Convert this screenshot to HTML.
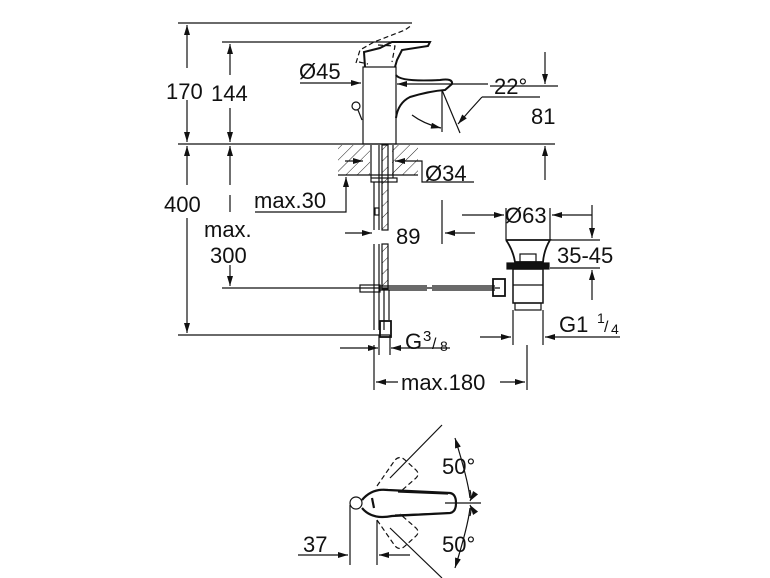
<!DOCTYPE html>
<html><head><meta charset="utf-8"><style>
html,body{margin:0;padding:0;background:#fff}
svg{display:block}
text{font-family:"Liberation Sans",sans-serif;font-size:22px;fill:#111}
</style></head><body>
<svg width="770" height="578" viewBox="0 0 770 578" xmlns="http://www.w3.org/2000/svg">
<defs>
<marker id="a" viewBox="0 0 10 6" refX="10" refY="3" markerWidth="14" markerHeight="6" markerUnits="userSpaceOnUse" orient="auto"><path d="M0,0 L10,3 L0,6 z" fill="#111"/></marker>
<pattern id="h" width="8" height="8" patternUnits="userSpaceOnUse" patternTransform="rotate(45)"><line x1="0" y1="0" x2="0" y2="8" stroke="#222" stroke-width="1"/></pattern>
</defs>
<g stroke="#111" stroke-width="1.2" fill="none">
<line x1="178" y1="23" x2="412" y2="23"/>
<line x1="222" y1="42" x2="430" y2="42"/>
<line x1="178" y1="144" x2="555" y2="144"/>
<line x1="222" y1="288" x2="500" y2="288"/>
<line x1="178" y1="335" x2="390" y2="335"/>
<line x1="187" y1="68" x2="187" y2="25" marker-end="url(#a)"/>
<line x1="187" y1="100" x2="187" y2="142" marker-end="url(#a)"/>
<line x1="187" y1="185" x2="187" y2="146" marker-end="url(#a)"/>
<line x1="187" y1="218" x2="187" y2="333" marker-end="url(#a)"/>
<line x1="230" y1="75" x2="230" y2="44" marker-end="url(#a)"/>
<line x1="230" y1="108" x2="230" y2="142" marker-end="url(#a)"/>
<line x1="230" y1="185" x2="230" y2="146" marker-end="url(#a)"/>
<line x1="230" y1="265" x2="230" y2="286" marker-end="url(#a)"/>
<line x1="230" y1="195" x2="230" y2="212"/>
<rect x="363" y="67" width="33" height="77"/>
<path d="M365,67 L364,52 L380,48 L392,42 L430,42 L428,46 L402,50 L397,60 L395,67" stroke-width="2"/>
<path d="M396,75 Q400,82 440,80 Q453,78 452,84 L445,90 Q430,91 410,97 Q398,103 396,118" stroke-width="2"/>
<path d="M356,63 L360,50 L374,42 L405,30 L412,25 M359,62 L368,64 M378,45 L395,46 L392,62" stroke-dasharray="5,3"/>
<circle cx="356" cy="106" r="4"/><line x1="358" y1="110" x2="362" y2="120"/>
<line x1="300" y1="83" x2="361" y2="83" marker-end="url(#a)"/>
<line x1="430" y1="84" x2="397" y2="84" marker-end="url(#a)"/>
<line x1="430" y1="84" x2="488" y2="84"/>
<line x1="442" y1="90" x2="442" y2="132"/>
<line x1="442" y1="90" x2="460" y2="133"/>
<path d="M412,115 Q424,124 441,128" marker-end="url(#a)"/>
<path d="M482,97 Q470,110 458,124" marker-end="url(#a)"/>
<line x1="482" y1="97" x2="540" y2="97"/>
<line x1="490" y1="86" x2="558" y2="86"/>
<line x1="545" y1="52" x2="545" y2="84" marker-end="url(#a)"/>
<line x1="545" y1="180" x2="545" y2="146" marker-end="url(#a)"/>
<rect x="338" y="145" width="80" height="30" fill="url(#h)" stroke="none"/>
<rect x="370" y="145" width="22" height="32" fill="#fff" stroke="none"/>
<line x1="338" y1="175" x2="418" y2="175"/>
<line x1="345" y1="161" x2="363" y2="161" marker-end="url(#a)"/>
<line x1="405" y1="161" x2="395" y2="161" marker-end="url(#a)"/>
<path d="M395,161 L422,161 L422,182 L474,182"/>
<line x1="371" y1="145" x2="371" y2="178"/>
<line x1="393" y1="145" x2="393" y2="178"/>
<rect x="371" y="178" width="26" height="4"/>
<line x1="374" y1="182" x2="374" y2="230"/>
<line x1="379" y1="145" x2="379" y2="230"/>
<rect x="382" y="145" width="6" height="85" fill="url(#h)" stroke="#111"/>
<rect x="375" y="208" width="4" height="7"/>
<line x1="374" y1="244" x2="374" y2="330"/>
<line x1="379" y1="244" x2="379" y2="330"/>
<rect x="382" y="244" width="6" height="45" fill="url(#h)" stroke="#111"/>
<line x1="384" y1="290" x2="384" y2="330"/>
<line x1="389" y1="290" x2="389" y2="320"/>
<rect x="360" y="285" width="20" height="7"/>
<rect x="380" y="321" width="11" height="16" stroke-width="1.8"/>
<path d="M255,212 L346,212 L346,177" marker-end="url(#a)"/>
<line x1="345" y1="233" x2="372" y2="233" marker-end="url(#a)"/>
<line x1="475" y1="233" x2="445" y2="233" marker-end="url(#a)"/>
<line x1="442" y1="200" x2="442" y2="244"/>
<line x1="380" y1="286" x2="427" y2="286"/><line x1="380" y1="290" x2="427" y2="290"/>
<line x1="432" y1="286" x2="495" y2="286"/><line x1="432" y1="290" x2="495" y2="290"/>
<rect x="493" y="279" width="12" height="17" stroke-width="1.8"/>
<line x1="506" y1="208" x2="506" y2="240"/><line x1="550" y1="208" x2="550" y2="240"/>
<line x1="462" y1="215" x2="504" y2="215" marker-end="url(#a)"/>
<line x1="592" y1="215" x2="552" y2="215" marker-end="url(#a)"/>
<path d="M506,240 L550,240 Q544,250 543,262 L515,262 Q513,250 506,240" stroke-width="1.8"/>
<rect x="520" y="254" width="16" height="8"/>
<rect x="507" y="263" width="42" height="6" fill="#111"/>
<rect x="513" y="269" width="30" height="34" stroke-width="1.5"/>
<line x1="513" y1="285" x2="543" y2="285"/>
<rect x="515" y="303" width="26" height="7"/>
<line x1="513" y1="310" x2="513" y2="345"/><line x1="543" y1="310" x2="543" y2="345"/>
<line x1="550" y1="240" x2="600" y2="240"/><line x1="550" y1="268" x2="600" y2="268"/>
<line x1="592" y1="205" x2="592" y2="238" marker-end="url(#a)"/>
<line x1="592" y1="300" x2="592" y2="270" marker-end="url(#a)"/>
<line x1="480" y1="337" x2="511" y2="337" marker-end="url(#a)"/>
<line x1="620" y1="337" x2="545" y2="337" marker-end="url(#a)"/>
<line x1="340" y1="348" x2="378" y2="348" marker-end="url(#a)"/>
<line x1="450" y1="348" x2="391" y2="348" marker-end="url(#a)"/>
<line x1="379" y1="335" x2="379" y2="355"/><line x1="390" y1="335" x2="390" y2="355"/>
<line x1="374" y1="345" x2="374" y2="390"/><line x1="527" y1="345" x2="527" y2="390"/>
<line x1="398" y1="382" x2="376" y2="382" marker-end="url(#a)"/>
<line x1="500" y1="382" x2="525" y2="382" marker-end="url(#a)"/>
<circle cx="356" cy="503" r="6"/>
<path d="M362,500 Q372,488 388,490 L450,493 Q456,494 456,503 Q456,512 450,513 L392,516 Q372,520 362,508" stroke-width="2.2"/>
<path d="M398,492 L448,494 M395,515 L448,513"/>
<path d="M372,498 L374,508" stroke-width="2.2"/>
<path d="M377,486 L395,460 Q400,455 405,460 L416,470 Q420,474 416,478 L400,492" stroke-dasharray="5,3"/>
<path d="M377,520 L395,546 Q400,551 405,546 L416,536 Q420,532 416,528 L400,514" stroke-dasharray="5,3"/>
<line x1="390" y1="478" x2="442" y2="425"/>
<line x1="390" y1="528" x2="442" y2="578"/>
<line x1="445" y1="503" x2="481" y2="503"/>
<path d="M470,498 Q468,480 455,438" marker-end="url(#a)"/>
<path d="M470,508 Q468,526 455,568" marker-end="url(#a)"/>
<path d="M470,490 Q472,498 470,501" marker-end="url(#a)"/>
<path d="M470,516 Q472,508 470,505" marker-end="url(#a)"/>
<line x1="350" y1="505" x2="350" y2="565"/><line x1="377" y1="520" x2="377" y2="565"/>
<line x1="298" y1="555" x2="348" y2="555" marker-end="url(#a)"/>
<line x1="410" y1="555" x2="379" y2="555" marker-end="url(#a)"/>
</g>
<text x="166" y="99">170</text>
<text x="211" y="101">144</text>
<text x="164" y="212">400</text>
<text x="254" y="208">max.30</text>
<text x="204" y="237">max.</text>
<text x="210" y="263">300</text>
<text x="299" y="79">Ø45</text>
<text x="494" y="94">22°</text>
<text x="531" y="124">81</text>
<text x="425" y="181">Ø34</text>
<text x="396" y="244">89</text>
<text x="505" y="223">Ø63</text>
<text x="557" y="263">35-45</text>
<text x="559" y="332">G1</text><text x="597" y="323" style="font-size:14px">1</text><text x="604" y="332" style="font-size:16px">/</text><text x="611" y="334" style="font-size:14px">4</text>
<text x="405" y="349">G</text><text x="423" y="341" style="font-size:15px">3</text><text x="432" y="349" style="font-size:16px">/</text><text x="440" y="351" style="font-size:14px">8</text>
<text x="401" y="390">max.180</text>
<text x="442" y="474">50°</text>
<text x="442" y="552">50°</text>
<text x="303" y="552">37</text>
</svg>
</body></html>
